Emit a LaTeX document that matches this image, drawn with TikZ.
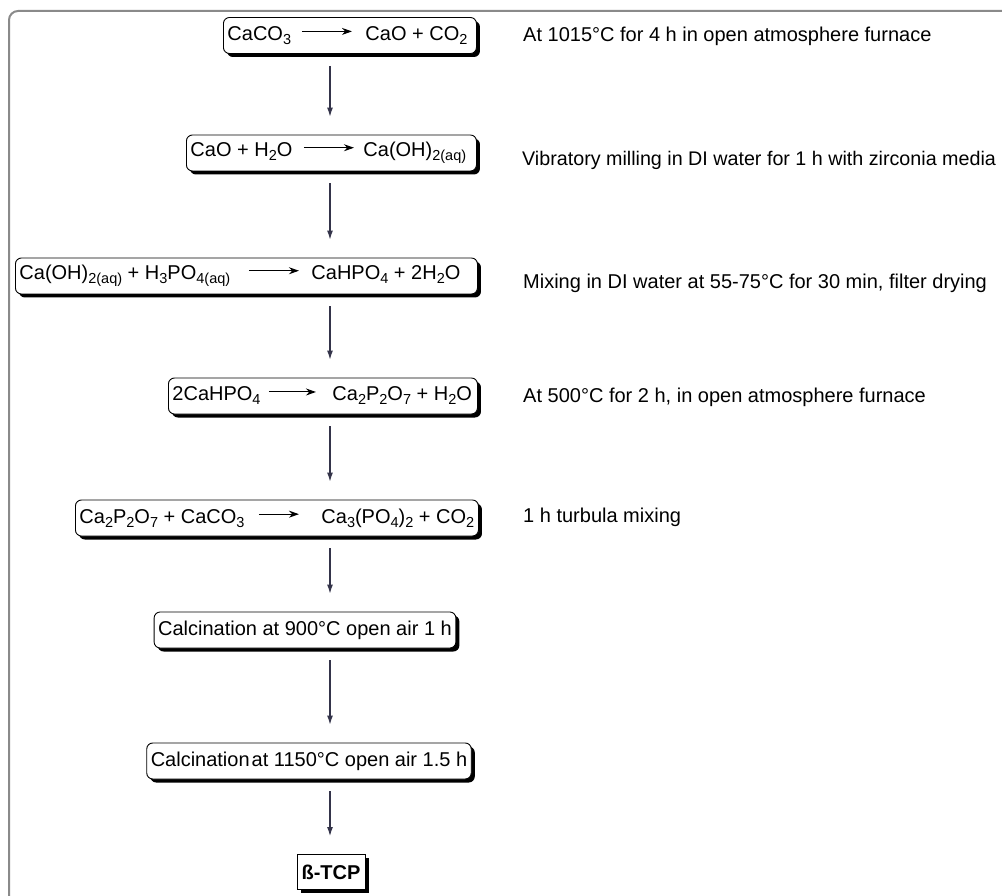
\documentclass[tikz,border=0pt]{standalone}
\usepackage{fontspec}
\setmainfont{Liberation Sans}
\usetikzlibrary{arrows.meta,shadows}

\definecolor{framec}{HTML}{8A8A8A}
\definecolor{flowc}{HTML}{34344A}

% chemical subscript
\newcommand\chsub[1]{\raisebox{-4pt}{\fontsize{14.5}{14.5}\selectfont #1}}
% reaction arrow of a given length
\newcommand\rxn[1]{\tikz[x=1pt,y=1pt,baseline=-9pt]\draw[line width=1pt,-{Stealth[length=10pt,width=7pt]}] (0,0)--(#1,0);}
% reactants / arrow / products laid out at fixed offsets
\newcommand\reaction[6]{\makebox[#1][l]{\rlap{#2}\hspace*{#3}\rlap{\rxn{#4}}\hspace*{#5}#6}}

\begin{document}
\begin{tikzpicture}[x=1pt,y=-1pt,
  font=\fontsize{20}{24}\selectfont,
  rxnbox/.style={draw=black, line width=0.9pt, rounded corners=6pt, fill=white,
    minimum height=36pt, inner xsep=4pt, inner ysep=0pt, anchor=west,
    general shadow={fill=black, shadow xshift=3.5pt, shadow yshift=-3.5pt}},
  plainbox/.style={rxnbox, anchor=center},
  note/.style={anchor=west, inner sep=0pt},
  flow/.style={draw=flowc, line width=1.1pt, -{Latex[length=9pt,width=6pt]},
    shorten <=12pt, shorten >=18pt}]
\useasboundingbox (0,0) rectangle (1002,896);

% outer frame
\draw[framec, line width=2pt, rounded corners=9pt] (9,898) -- (9,11) -- (1004,11);

% reaction steps
\node[rxnbox] (b1) at (223,35.5)
  {\reaction{245pt}{CaCO\chsub{3}}{74pt}{50}{64pt}{CaO + CO\chsub{2}}};
\node[rxnbox] (b2) at (186,153)
  {\reaction{282pt}{CaO + H\chsub{2}O}{113pt}{50}{60pt}{Ca(OH)\chsub{2(aq)}}};
\node[rxnbox] (b3) at (15,276)
  {\reaction{454pt}{Ca(OH)\chsub{2(aq)} + H\chsub{3}PO\chsub{4(aq)}}{229pt}{50}{63pt}{CaHPO\chsub{4} + 2H\chsub{2}O}};
\node[rxnbox] (b4) at (168,396)
  {\reaction{301pt}{2CaHPO\chsub{4}}{96pt}{47}{64pt}{Ca\chsub{2}P\chsub{2}O\chsub{7} + H\chsub{2}O}};
\node[rxnbox] (b5) at (75,518)
  {\reaction{395pt}{Ca\chsub{2}P\chsub{2}O\chsub{7} + CaCO\chsub{3}}{179pt}{40}{63pt}{Ca\chsub{3}(PO\chsub{4})\chsub{2} + CO\chsub{2}}};
\node[plainbox, minimum width=294pt] (b6) at (305,630)
  {Calcination at 900°C open air 1 h};
\node[plainbox, minimum width=322pt] (b7) at (309,761)
  {Calcination\hspace{2pt}at 1150°C open air 1.5 h};
\node[plainbox, rounded corners=0pt, minimum width=68pt, minimum height=35pt] (b8) at (331,872)
  {\textbf{ß-TCP}};

% process conditions
\node[note] (n1) at (523,36) {At 1015°C for 4 h in open atmosphere furnace};
\node[note, font=\fontsize{19.7}{24}\selectfont] (n2) at (522,160) {Vibratory milling in DI water for 1 h with zirconia media};
\node[note] (n3) at (523,283) {Mixing in DI water at 55-75°C for 30 min, filter drying};
\node[note] (n4) at (523,397) {At 500°C for 2 h, in open atmosphere furnace};
\node[note] (n5) at (523,517) {1 h turbula mixing};

% flow connectors
\coordinate (axis) at (330,0);
\draw[flow] (b1.south -| axis) -- (b2.north -| axis);
\draw[flow] (b2.south -| axis) -- (b3.north -| axis);
\draw[flow] (b3.south -| axis) -- (b4.north -| axis);
\draw[flow] (b4.south -| axis) -- (b5.north -| axis);
\draw[flow] (b5.south -| axis) -- (b6.north -| axis);
\draw[flow] (b6.south -| axis) -- (b7.north -| axis);
\draw[flow] (b7.south -| axis) -- (b8.north -| axis);
\end{tikzpicture}
\end{document}
